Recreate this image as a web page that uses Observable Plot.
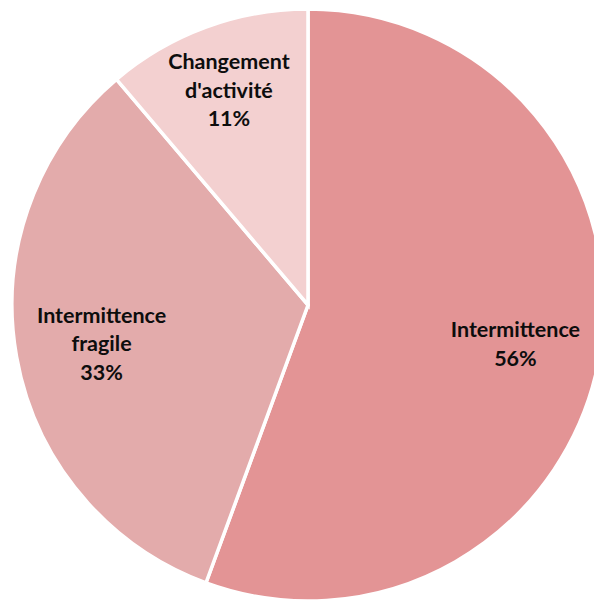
<!DOCTYPE html>
<html>
<head>
<meta charset="utf-8">
<script src="https://cdn.jsdelivr.net/npm/d3@7"></script>
<script src="https://cdn.jsdelivr.net/npm/@observablehq/plot@0.6"></script>
<style>
  html, body { margin: 0; padding: 0; background: #fff; }
  #chart { width: 594px; height: 601px; overflow: hidden; }
</style>
</head>
<body>
<div id="chart"></div>
<script>
const categories = ["Intermittence", "Intermittence fragile", "Changement d'activité"];
const labelLines = ["Intermittence", "Intermittence\nfragile", "Changement\nd'activité"];
const shares = [55.6, 33.2, 11.2];
const shareLabels = ["56%", "33%", "11%"];   // as printed
const colors = ["#e39495", "#e3abab", "#f3d0d0"];

const data = categories.map((c, i) => ({ category: c, label: labelLines[i], value: shares[i], pct: shareLabels[i], color: colors[i] }));

const pie = d3.pie().sort(null).value(d => d.value);
const arcs = pie(data);

// label positions from slice mid-angle (polar -> unit coordinates)
const labels = arcs.map(a => {
  const mid = (a.startAngle + a.endAngle) / 2;
  const rf = a.data.value > 20 ? 0.71 : 0.78;
  return {
    text: a.data.label + "\n" + a.data.pct,
    x: rf * Math.sin(mid),
    y: rf * Math.cos(mid)
  };
});

function slices(index, scales, values, dimensions, context) {
  const cx = scales.x(0), cy = scales.y(0);
  const r = scales.x(1) - scales.x(0);
  const arc = d3.arc().innerRadius(0).outerRadius(r);
  const g = d3.create("svg:g").attr("transform", `translate(${cx},${cy})`);
  g.selectAll("path").data(arcs).join("path")
    .attr("d", arc)
    .attr("fill", d => d.data.color)
    .attr("stroke", "#fff")
    .attr("stroke-width", 3.5)
    .attr("stroke-linejoin", "miter");
  return g.node();
}

const chart = Plot.plot({
  width: 594,
  height: 601,
  margin: 0,
  x: { domain: [-1, 1], range: [12, 604], axis: null },
  y: { domain: [-1, 1], range: [601, 9], axis: null },
  style: { background: "#fff", overflow: "hidden" },
  marks: [
    slices,
    Plot.text(labels, {
      x: "x", y: "y", text: "text",
      fontSize: 21.5, fontWeight: "bold", fill: "#0d0d0d",
      fontFamily: "Lato, 'Open Sans', sans-serif",
      lineHeight: 1.33
    })
  ]
});
document.getElementById("chart").appendChild(chart);
</script>
</body>
</html>
